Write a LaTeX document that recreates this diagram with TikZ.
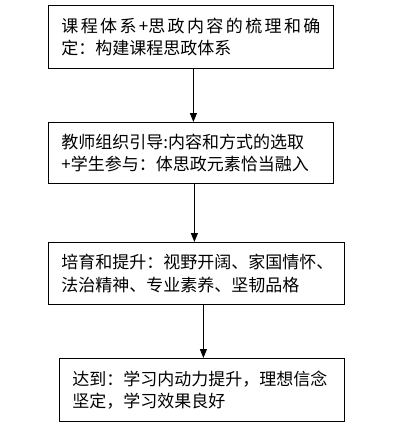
\documentclass[tikz,border=0pt]{standalone}
\usepackage{fontspec}
\setmainfont{Noto Sans CJK SC}
\usetikzlibrary{arrows.meta}
\XeTeXlinebreaklocale "zh"
\XeTeXlinebreakskip=0pt plus 3pt
\begin{document}
\begin{tikzpicture}[x=1pt,y=-1pt,
  box/.style={draw=black, line width=0.8pt, align=left, inner xsep=13pt, inner ysep=0pt,
    font=\fontsize{17}{22.5}\selectfont, anchor=north west},
  arr/.style={draw=black, line width=0.9pt, -{Triangle[length=9pt,width=7pt]}}]
\useasboundingbox (0,0) rectangle (410,432);
\node[box, text width=259pt, minimum height=63pt, align=justify] (b1) at (48,5)
  {课程体系+思政内容的梳理和确\linebreak 定：构建课程思政体系};
\node[box, text width=259pt, minimum height=61pt] (b2) at (48,122)
  {\mbox{教师组织引导:内容和方式的选取}\\\mbox{+学生参与：体思政元素恰当融入}};
\node[box, text width=270pt, minimum height=62pt] (b3) at (48,242)
  {\mbox{培育和提升：视野开阔、家国情怀、}\\\mbox{法治精神、专业素养、坚韧品格}};
\node[box, text width=259pt, minimum height=63pt] (b4) at (59,358)
  {\mbox{达到：学习内动力提升，理想信念}\\\mbox{坚定，学习效果良好}};
\draw[arr] ([xshift=2.5pt]b1.south) -- ([xshift=2.5pt]b1.south |- b2.north);
\draw[arr] ([xshift=3.5pt]b2.south) -- ([xshift=3.5pt]b2.south |- b3.north);
\draw[arr] ([xshift=7pt]b3.south) -- ([xshift=7pt]b3.south |- b4.north);
\end{tikzpicture}
\end{document}
